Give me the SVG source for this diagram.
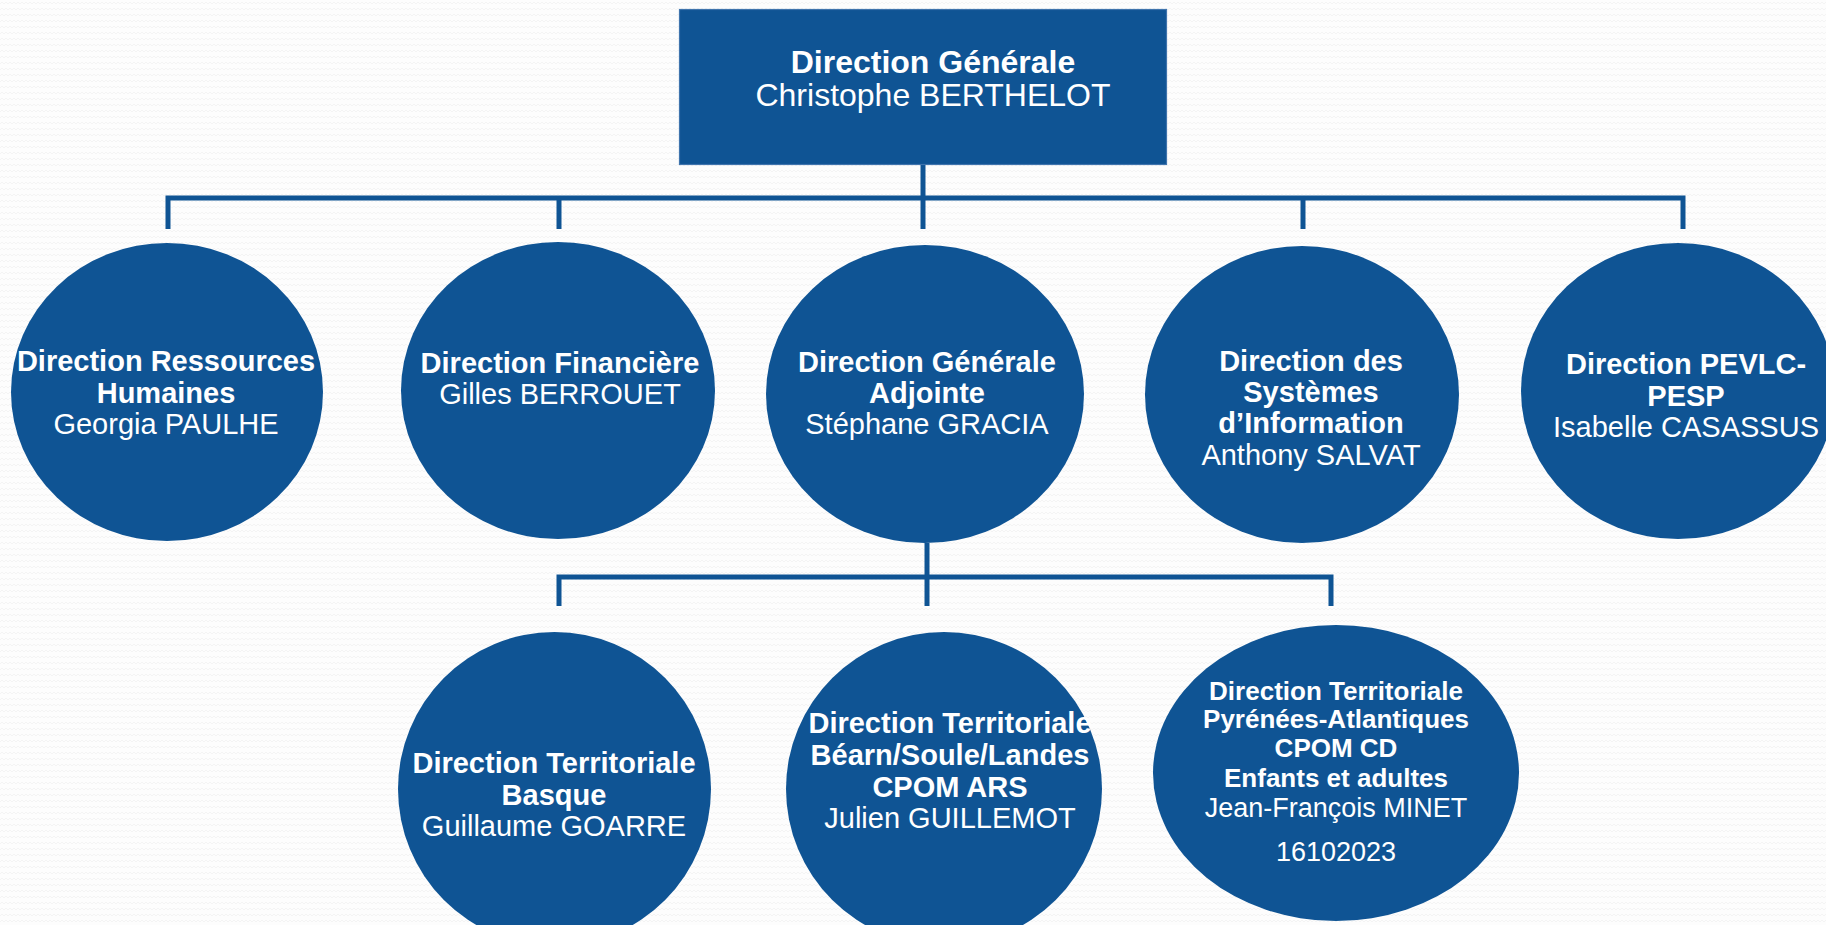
<svg xmlns="http://www.w3.org/2000/svg" width="1826" height="925" viewBox="0 0 1826 925">
<defs>
<pattern id="bg" width="8" height="6" patternUnits="userSpaceOnUse">
<rect width="8" height="6" fill="#fdfdfd"/>
<path d="M0 4 L2 2 L4 4 L6 2 L8 4" fill="none" stroke="#f1f1f1" stroke-width="0.7"/>
</pattern>
<style>
.node{fill:#0F5494;}
.box{fill:#0F5494;stroke:#3f74ad;stroke-width:1.2;}
.conn{fill:none;stroke:#0F5494;stroke-width:5;stroke-linecap:butt;stroke-linejoin:miter;}
text{font-family:"Liberation Sans",Arial,sans-serif;fill:#ffffff;text-anchor:middle;}
.b{font-weight:bold;}
.t32{font-size:32px;}
.t29{font-size:29px;}
.t26{font-size:26px;}
.r27{font-size:27px;}
</style>
</defs>
<rect width="1826" height="925" fill="url(#bg)"/>
<g id="connectors">
<path class="conn" d="M923 164 V229"/>
<path class="conn" d="M168 229 V198 H1683 V229"/>
<path class="conn" d="M559 198 V229"/>
<path class="conn" d="M1303 198 V229"/>
<path class="conn" d="M927 543 V606"/>
<path class="conn" d="M559 606 V577 H1331 V606"/>
</g>
<g id="dg">
<rect class="box" x="679.5" y="9.5" width="487" height="155"/>
<text class="t32" x="933" y="73"><tspan class="b">Direction Générale</tspan><tspan x="933" y="106">Christophe BERTHELOT</tspan></text>
</g>
<g id="drh">
<ellipse class="node" cx="167" cy="392" rx="156" ry="149"/>
<text class="t29" x="166" y="371"><tspan class="b">Direction Ressources</tspan><tspan class="b" x="166" y="403">Humaines</tspan><tspan x="166" y="434">Georgia PAULHE</tspan></text>
</g>
<g id="dfin">
<ellipse class="node" cx="558" cy="390.5" rx="157" ry="148.5"/>
<text class="t29" x="560" y="373"><tspan class="b">Direction Financière</tspan><tspan x="560" y="404">Gilles BERROUET</tspan></text>
</g>
<g id="dga">
<ellipse class="node" cx="925" cy="394" rx="159" ry="149"/>
<text class="t29" x="927" y="372"><tspan class="b">Direction Générale</tspan><tspan class="b" x="927" y="403">Adjointe</tspan><tspan x="927" y="434">Stéphane GRACIA</tspan></text>
</g>
<g id="dsi">
<ellipse class="node" cx="1302" cy="394.5" rx="157" ry="148.5"/>
<text class="t29" x="1311" y="371"><tspan class="b">Direction des</tspan><tspan class="b" x="1311" y="402">Systèmes</tspan><tspan class="b" x="1311" y="433">d’Information</tspan><tspan x="1311" y="465">Anthony SALVAT</tspan></text>
</g>
<g id="dpevlc">
<ellipse class="node" cx="1678" cy="391" rx="157" ry="148"/>
<text class="t29" x="1686" y="374"><tspan class="b">Direction PEVLC-</tspan><tspan class="b" x="1686" y="406">PESP</tspan><tspan x="1686" y="437">Isabelle CASASSUS</tspan></text>
</g>
<g id="dt-basque">
<ellipse class="node" cx="554.5" cy="789" rx="156.5" ry="157"/>
<text class="t29" x="554" y="773"><tspan class="b">Direction Territoriale</tspan><tspan class="b" x="554" y="805">Basque</tspan><tspan x="554" y="836">Guillaume GOARRE</tspan></text>
</g>
<g id="dt-bearn">
<ellipse class="node" cx="944" cy="789" rx="158" ry="157"/>
<text class="t29" x="950" y="733"><tspan class="b">Direction Territoriale</tspan><tspan class="b" x="950" y="765">Béarn/Soule/Landes</tspan><tspan class="b" x="950" y="797">CPOM ARS</tspan><tspan x="950" y="828">Julien GUILLEMOT</tspan></text>
</g>
<g id="dt-pa">
<ellipse class="node" cx="1336" cy="773" rx="183" ry="148"/>
<text class="t26" x="1336" y="700"><tspan class="b">Direction Territoriale</tspan><tspan class="b" x="1336" y="728">Pyrénées-Atlantiques</tspan><tspan class="b" x="1336" y="757">CPOM CD</tspan><tspan class="b" x="1336" y="787">Enfants et adultes</tspan><tspan class="r27" x="1336" y="817">Jean-François MINET</tspan><tspan class="r27" x="1336" y="861">16102023</tspan></text>
</g>
</svg>
